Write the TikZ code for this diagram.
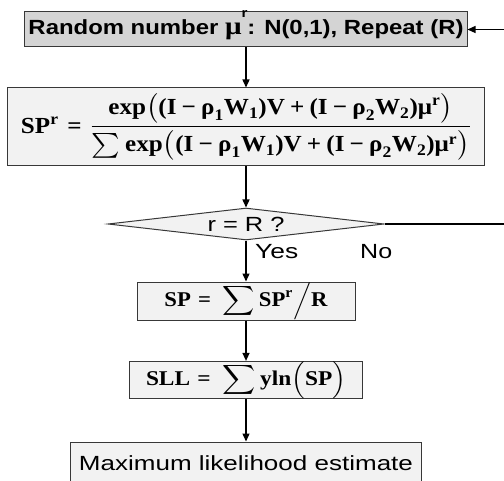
\documentclass[tikz,border=0pt]{standalone}
\usepackage{fontspec}
\usepackage{amsmath}
\usepackage{graphicx}
\setmainfont{Liberation Serif}
\setsansfont{Liberation Sans}
\usetikzlibrary{shapes.geometric,arrows.meta}

\definecolor{headfill}{HTML}{D4D4D4}
\definecolor{boxfill}{HTML}{F2F2F2}
\definecolor{edge}{HTML}{383838}

% bold serif pieces inside formulas
\newcommand\bs[1]{\text{\rmfamily\bfseries #1}}
% bold serif parentheses and operators from the text font
\newcommand\lp{\bs{(}}
\newcommand\rp{\bs{)}}
\newcommand\mi{\,\bs{−}\,}
\newcommand\pl{\,\bs{+}\,}
\newcommand\eq{\;\bs{=}\;}
% sans label stretched to a given width
\newcommand\sanstext[2]{\resizebox{#1}{\height}{\sffamily\fontsize{20.5bp}{24bp}\selectfont #2}}
% bold formula at a given size, stretched to a given width
\newcommand\formula[3]{\resizebox{#1}{\height}{\fontsize{#2}{#2}\selectfont\boldmath$#3$}}
% the common bracket of the utility term
\newcommand\util{\bs{exp}\bigl(\lp\bs{I}\mi\bs{ρ}_{\bs{1}}\bs{W}_{\bs{1}}\rp\bs{V}\pl\lp\bs{I}\mi\bs{ρ}_{\bs{2}}\bs{W}_{\bs{2}}\rp\bs{μ}^{\bs{r}}\bigr)}

\tikzset{
  box/.style={draw=edge, line width=1bp, rectangle, inner sep=0pt, fill=boxfill},
  flow/.style={draw=black, line width=1.3bp, -{Triangle[length=8bp,width=7bp]}},
  lbl/.style={inner sep=0pt, anchor=base west},
}

\begin{document}
\begin{tikzpicture}[x=1bp,y=-1bp]
\useasboundingbox (0,0) rectangle (504,481);

% random draw
\node[box, fill=headfill, minimum width=442bp, minimum height=35bp] (draw) at (246,29.5)
  {\resizebox{435bp}{\height}{\sffamily\bfseries\fontsize{20.5bp}{24bp}\selectfont
   Random number {\rmfamily\fontsize{25bp}{25bp}\selectfont μ}\raisebox{17bp}[0pt][0pt]{\fontsize{13bp}{14bp}\selectfont r}: N(0,1), Repeat (R)}};

% simulated probability
\node[box, minimum width=477bp, minimum height=78bp] (share) at (246,127)
  {\formula{450bp}{23bp}{\bs{SP}^{\bs{r}}\eq\dfrac{\util}{\sum\util}}};

% repetition test
\node[diamond, draw=edge, line width=1bp, fill=boxfill, aspect=8.6, inner sep=0pt,
      minimum width=276bp, minimum height=32bp] (check) at (246,224)
  {\sanstext{77bp}{r = R ?}};
\node[lbl] (yes) at (255,258) {\sanstext{43bp}{Yes}};
\node[lbl] (no) at (360,258) {\sanstext{32bp}{No}};

% average over draws
\node[box, minimum width=218bp, minimum height=38bp] (mean) at (246,301)
  {\formula{163bp}{21bp}{\bs{SP}\eq\displaystyle\sum\bs{SP}^{\bs{r}}\Big/\bs{R}}};

% simulated log-likelihood
\node[box, minimum width=233bp, minimum height=36bp] (sll) at (246,380)
  {\formula{200bp}{21bp}{\bs{SLL}\eq\displaystyle\sum\bs{yln}\Bigl(\bs{SP}\Bigr)}};

% result
\node[box, minimum width=351bp, minimum height=42bp] (mle) at (246,463)
  {\sanstext{334bp}{Maximum likelihood estimate}};

% connectors
\draw[flow] (draw.south) -- (share.north);
\draw[flow] (share.south) -- (check.north);
\draw[flow] (check.south) -- (mean.north);
\draw[flow] (mean.south) -- (sll.north);
\draw[flow] (sll.south) -- (mle.north);
\coordinate (turn) at (512,224);
\draw[flow] (check.east) -- (turn) |- (draw.east);
\end{tikzpicture}
\end{document}
